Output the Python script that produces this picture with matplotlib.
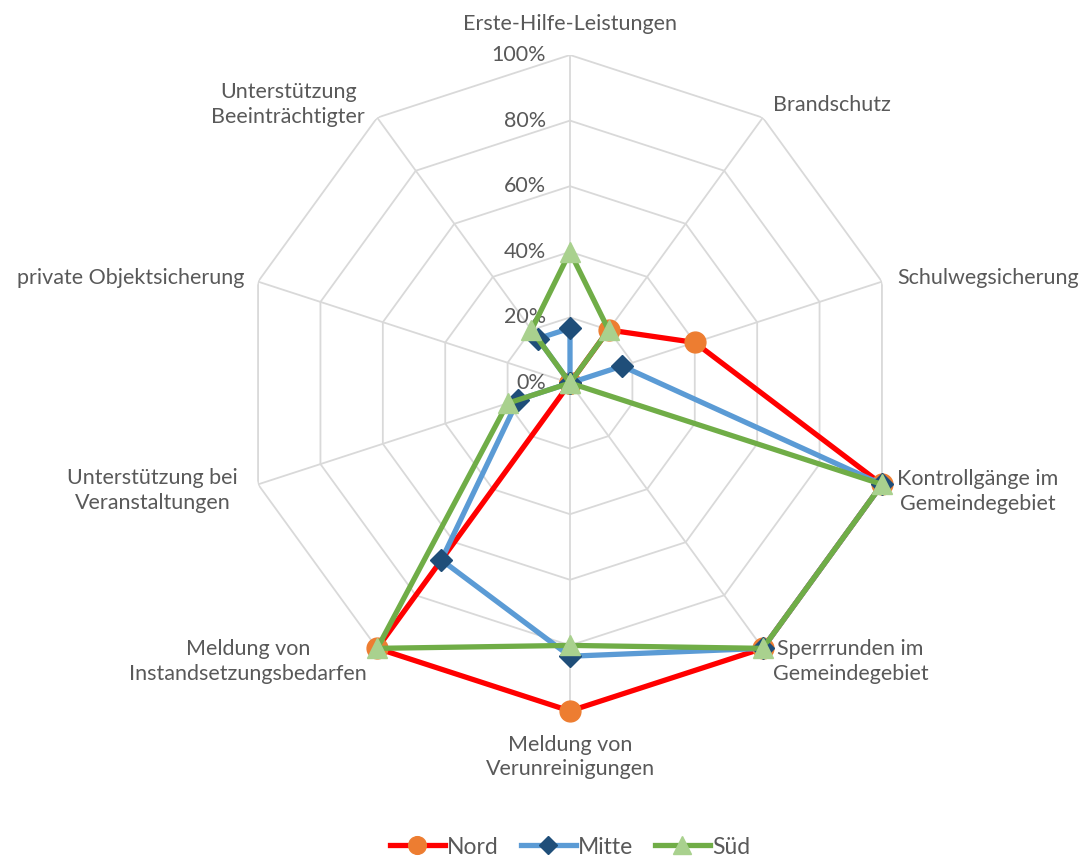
import numpy as np
import matplotlib
matplotlib.use("Agg")
import matplotlib.pyplot as plt
from matplotlib.lines import Line2D

plt.rcParams['font.family'] = ['Lato', 'DejaVu Sans']

categories = [
    "Erste-Hilfe-Leistungen",
    "Brandschutz",
    "Schulwegsicherung",
    "Kontrollgänge im\nGemeindegebiet",
    "Sperrrunden im\nGemeindegebiet",
    "Meldung von\nVerunreinigungen",
    "Meldung von\nInstandsetzungsbedarfen",
    "Unterstützung bei\nVeranstaltungen",
    "private Objektsicherung",
    "Unterstützung\nBeeinträchtigter",
]
nord = [0, 20, 40, 100, 100, 100, 100, 0, 0, 0]
mitte = [16.7, 0, 16.7, 100, 100, 83.3, 66.7, 16.7, 0, 16.7]
sued = [40, 20, 0, 100, 100, 80, 100, 20, 0, 20]
ticks = [0, 20, 40, 60, 80, 100]
tick_labels = ["0%", "20%", "40%", "60%", "80%", "100%"]

W, H = 1087, 858
fig = plt.figure(figsize=(W / 100, H / 100), dpi=100)
cx, cy, R = 570, 383, 328
ax = fig.add_axes([(cx - R) / W, (H - cy - R) / H, 2 * R / W, 2 * R / H], projection='polar')
ax.set_theta_offset(np.pi / 2)
ax.set_theta_direction(-1)
ax.set_ylim(0, 100)
ax.grid(False)
ax.set_xticks([])
ax.set_yticks([])
ax.spines['polar'].set_visible(False)
ax.patch.set_alpha(0)

n = len(categories)
theta = np.arange(n) * 2 * np.pi / n
theta_c = np.append(theta, theta[0])

grid_c = '#D9D9D9'
for t in ticks[1:]:
    ax.plot(theta_c, [t] * (n + 1), color=grid_c, lw=1.3, zorder=1)
for th in theta:
    ax.plot([th, th], [0, 100], color=grid_c, lw=1.3, zorder=1)

txt_c = '#595959'
fs = 15.5
for t, lab in zip(ticks, tick_labels):
    ax.annotate(lab, xy=(0, t), xytext=(-24, 0), textcoords='offset pixels',
                ha='right', va='center', fontsize=fs, color=txt_c, zorder=2)

# category label placements (offset pixels, ha)
offsets = [
    ((0, 31), 'center'),
    ((10, 13), 'left'),
    ((15, 4), 'left'),
    ((15, -7), 'left'),
    ((10, -13), 'left'),
    ((0, -46), 'center'),
    ((-10, -13), 'right'),
    ((-20, -6), 'right'),
    ((-14, 4), 'right'),
    ((-12, 13), 'right'),
]
for th, lab, (off, ha) in zip(theta, categories, offsets):
    ax.annotate(lab, xy=(th, 100), xytext=off, textcoords='offset pixels',
                ha=ha, va='center', multialignment='center', fontsize=fs,
                color=txt_c, zorder=2, linespacing=1.3)

series = [
    ("Nord", nord, '#FF0000', 'o', '#ED7D31', 15),
    ("Mitte", mitte, '#5B9BD5', 'D', '#1F4E79', 11),
    ("Süd", sued, '#70AD47', '^', '#A9D18E', 15),
]
handles = []
for i, (name, vals, lc, mk, mc, ms) in enumerate(series):
    v = np.append(vals, vals[0])
    ax.plot(theta_c, v, color=lc, lw=3.8, zorder=3 + i, solid_joinstyle='round')
    ax.plot(theta, vals, ls='none', marker=mk, markersize=ms, markerfacecolor=mc,
            markeredgecolor=mc, zorder=3.5 + i, clip_on=False)
    handles.append(Line2D([], [], color=lc, lw=3.8, marker=mk, markersize=ms * 0.85,
                          markerfacecolor=mc, markeredgecolor=mc, label=name))

fig.legend(handles=handles, loc='center', bbox_to_anchor=(cx / W, 11 / H), ncol=3,
           frameon=False, fontsize=16.5, handlelength=2.4, columnspacing=0.95,
           handletextpad=0.1, labelcolor=txt_c, borderpad=0, borderaxespad=0)

fig.savefig('out.png', dpi=100)
